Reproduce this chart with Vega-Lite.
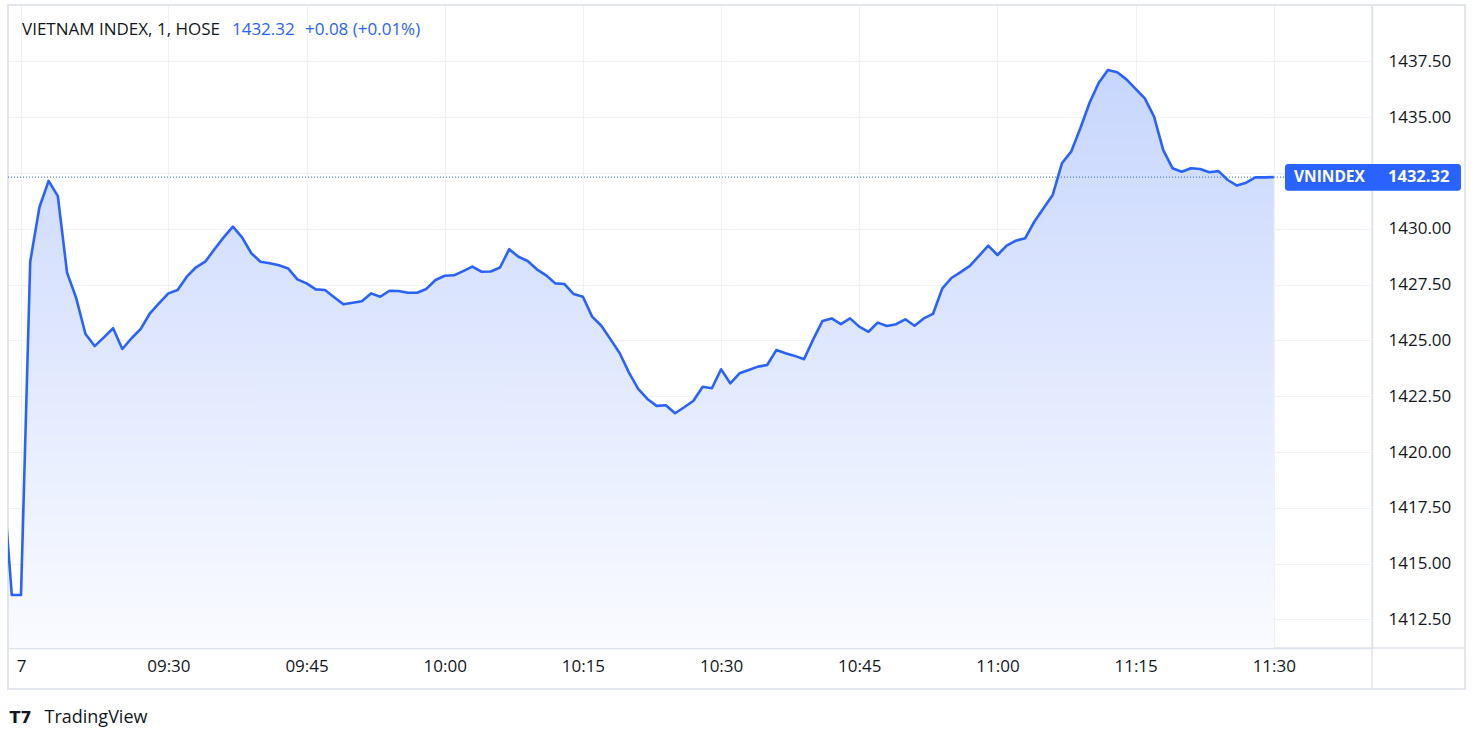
{
  "$schema": "https://vega.github.io/schema/vega-lite/v6.json",
  "autosize": {"type": "none"},
  "padding": {"left": 8, "top": 5, "right": 111, "bottom": 95},
  "width": 1364,
  "height": 643,
  "background": "#ffffff",
  "config": {
    "view": {"stroke": "#e3e6ec", "strokeWidth": 1.5},
    "font": "Open Sans"
  },
  "data": {
    "values": [
      {"t": 552, "v": 1419.04}, {"t": 553, "v": 1413.60}, {"t": 554, "v": 1413.60}, {"t": 555, "v": 1428.53},
      {"t": 556, "v": 1430.97}, {"t": 557, "v": 1432.15}, {"t": 558, "v": 1431.47}, {"t": 559, "v": 1428.04},
      {"t": 560, "v": 1426.89}, {"t": 561, "v": 1425.29}, {"t": 562, "v": 1424.75}, {"t": 563, "v": 1425.14},
      {"t": 564, "v": 1425.55}, {"t": 565, "v": 1424.62}, {"t": 566, "v": 1425.10}, {"t": 567, "v": 1425.52},
      {"t": 568, "v": 1426.22}, {"t": 569, "v": 1426.67}, {"t": 570, "v": 1427.11}, {"t": 571, "v": 1427.26},
      {"t": 572, "v": 1427.86}, {"t": 573, "v": 1428.28}, {"t": 574, "v": 1428.53}, {"t": 575, "v": 1429.09},
      {"t": 576, "v": 1429.62}, {"t": 577, "v": 1430.10}, {"t": 578, "v": 1429.62}, {"t": 579, "v": 1428.91},
      {"t": 580, "v": 1428.53}, {"t": 581, "v": 1428.46}, {"t": 582, "v": 1428.37}, {"t": 583, "v": 1428.23},
      {"t": 584, "v": 1427.74}, {"t": 585, "v": 1427.56}, {"t": 586, "v": 1427.29}, {"t": 587, "v": 1427.26},
      {"t": 588, "v": 1426.94}, {"t": 589, "v": 1426.62}, {"t": 590, "v": 1426.69}, {"t": 591, "v": 1426.76},
      {"t": 592, "v": 1427.11}, {"t": 593, "v": 1426.96}, {"t": 594, "v": 1427.23}, {"t": 595, "v": 1427.22},
      {"t": 596, "v": 1427.14}, {"t": 597, "v": 1427.14}, {"t": 598, "v": 1427.31}, {"t": 599, "v": 1427.71},
      {"t": 600, "v": 1427.90}, {"t": 601, "v": 1427.92}, {"t": 602, "v": 1428.11}, {"t": 603, "v": 1428.31},
      {"t": 604, "v": 1428.08}, {"t": 605, "v": 1428.09}, {"t": 606, "v": 1428.27}, {"t": 607, "v": 1429.09},
      {"t": 608, "v": 1428.75}, {"t": 609, "v": 1428.56}, {"t": 610, "v": 1428.19}, {"t": 611, "v": 1427.92},
      {"t": 612, "v": 1427.56}, {"t": 613, "v": 1427.53}, {"t": 614, "v": 1427.08}, {"t": 615, "v": 1426.96},
      {"t": 616, "v": 1426.07}, {"t": 617, "v": 1425.66}, {"t": 618, "v": 1425.05}, {"t": 619, "v": 1424.43},
      {"t": 620, "v": 1423.56}, {"t": 621, "v": 1422.83}, {"t": 622, "v": 1422.38}, {"t": 623, "v": 1422.07},
      {"t": 624, "v": 1422.10}, {"t": 625, "v": 1421.74}, {"t": 626, "v": 1422.01}, {"t": 627, "v": 1422.30},
      {"t": 628, "v": 1422.93}, {"t": 629, "v": 1422.86}, {"t": 630, "v": 1423.71}, {"t": 631, "v": 1423.08},
      {"t": 632, "v": 1423.53}, {"t": 633, "v": 1423.68}, {"t": 634, "v": 1423.83}, {"t": 635, "v": 1423.90},
      {"t": 636, "v": 1424.57}, {"t": 637, "v": 1424.43}, {"t": 638, "v": 1424.31}, {"t": 639, "v": 1424.16},
      {"t": 640, "v": 1425.05}, {"t": 641, "v": 1425.87}, {"t": 642, "v": 1425.99}, {"t": 643, "v": 1425.73},
      {"t": 644, "v": 1425.99}, {"t": 645, "v": 1425.62}, {"t": 646, "v": 1425.39}, {"t": 647, "v": 1425.80},
      {"t": 648, "v": 1425.65}, {"t": 649, "v": 1425.73}, {"t": 650, "v": 1425.95}, {"t": 651, "v": 1425.66},
      {"t": 652, "v": 1425.99}, {"t": 653, "v": 1426.19}, {"t": 654, "v": 1427.32}, {"t": 655, "v": 1427.80},
      {"t": 656, "v": 1428.06}, {"t": 657, "v": 1428.34}, {"t": 658, "v": 1428.79}, {"t": 659, "v": 1429.25},
      {"t": 660, "v": 1428.83}, {"t": 661, "v": 1429.25}, {"t": 662, "v": 1429.47}, {"t": 663, "v": 1429.58},
      {"t": 664, "v": 1430.32}, {"t": 665, "v": 1430.92}, {"t": 666, "v": 1431.52}, {"t": 667, "v": 1432.94},
      {"t": 668, "v": 1433.46}, {"t": 669, "v": 1434.51}, {"t": 670, "v": 1435.65}, {"t": 671, "v": 1436.55},
      {"t": 672, "v": 1437.12}, {"t": 673, "v": 1437.02}, {"t": 674, "v": 1436.70}, {"t": 675, "v": 1436.27},
      {"t": 676, "v": 1435.85}, {"t": 677, "v": 1435.03}, {"t": 678, "v": 1433.53}, {"t": 679, "v": 1432.72},
      {"t": 680, "v": 1432.56}, {"t": 681, "v": 1432.72}, {"t": 682, "v": 1432.68}, {"t": 683, "v": 1432.54},
      {"t": 684, "v": 1432.59}, {"t": 685, "v": 1432.19}, {"t": 686, "v": 1431.94}, {"t": 687, "v": 1432.07},
      {"t": 688, "v": 1432.31}, {"t": 689, "v": 1432.31}, {"t": 690, "v": 1432.32}
    ]
  },
  "encoding": {
    "x": {
      "field": "t",
      "type": "quantitative",
      "scale": {"domain": [552.589, 700.66], "nice": false, "zero": false},
      "axis": {
        "values": [554, 570, 585, 600, 615, 630, 645, 660, 675, 690],
        "labelExpr": "datum.value == 554 ? '7' : format(floor(datum.value / 60), '02d') + ':' + format(datum.value % 60, '02d')",
        "grid": true,
        "gridColor": "#eff1f6",
        "gridWidth": 1,
        "ticks": false,
        "domain": true,
        "domainColor": "#e0e3eb",
        "domainWidth": 1.5,
        "labelFont": "Open Sans",
        "labelFontSize": 17,
        "labelColor": "#131722",
        "labelPadding": 10,
        "labelFlush": false,
        "labelOverlap": false,
        "title": "TradingView",
        "titleX": 36,
        "titleY": 69,
        "titleAlign": "left",
        "titleAnchor": "start",
        "titleBaseline": "middle",
        "titleFont": "Open Sans",
        "titleFontSize": 18,
        "titleFontWeight": "normal",
        "titleColor": "#131722"
      }
    },
    "y": {
      "field": "v",
      "type": "quantitative",
      "scale": {"domain": [1411.223, 1440.031], "nice": false, "zero": false},
      "axis": {
        "orient": "right",
        "values": [1412.5, 1415, 1417.5, 1420, 1422.5, 1425, 1427.5, 1430, 1432.5, 1435, 1437.5],
        "labelExpr": "datum.value == 1432.5 ? '' : format(datum.value, '.2f')",
        "grid": true,
        "gridColor": "#eff1f6",
        "gridWidth": 1,
        "ticks": false,
        "tickSize": 0,
        "domain": true,
        "domainColor": "#e0e3eb",
        "domainWidth": 1.5,
        "labelFont": "Open Sans",
        "labelFontSize": 17,
        "labelColor": "#131722",
        "labelPadding": 16,
        "labelAlign": "left",
        "labelBaseline": "middle",
        "title": "T7",
        "titleAngle": 0,
        "titleX": -1363,
        "titleY": 712,
        "titleAlign": "left",
        "titleBaseline": "middle",
        "titleFont": "DejaVu Sans",
        "titleFontSize": 16,
        "titleFontWeight": 900,
        "titleColor": "#131722"
      }
    }
  },
  "layer": [
    {
      "mark": {
        "type": "area",
        "clip": true,
        "fill": {
          "gradient": "linear",
          "x1": 0, "y1": 0, "x2": 0, "y2": 1,
          "stops": [
            {"offset": 0, "color": "#c7d6fd"},
            {"offset": 1, "color": "#fafbff"}
          ]
        }
      },
      "encoding": {
        "y2": {"datum": 1411.223}
      }
    },
    {
      "transform": [{"filter": "datum.t == 690"}],
      "mark": {"type": "rect", "clip": false, "fill": null, "fillOpacity": 0, "stroke": "#e3e6ec", "strokeWidth": 2},
      "encoding": {
        "x": {"datum": 552.589},
        "x2": {"datum": 710.75},
        "y": {"datum": 1440.031},
        "y2": {"datum": 1409.386}
      }
    },
    {
      "transform": [{"filter": "datum.t == 690"}],
      "mark": {"type": "rule", "clip": false, "color": "#e0e3eb", "strokeWidth": 1.5},
      "encoding": {
        "x": {"datum": 700.66},
        "y": {"datum": 1411.223},
        "y2": {"datum": 1409.386}
      }
    },
    {
      "transform": [{"filter": "datum.t == 690"}],
      "mark": {"type": "rule", "clip": false, "color": "#e0e3eb", "strokeWidth": 1.5},
      "encoding": {
        "x": {"datum": 700.66},
        "x2": {"datum": 710.75},
        "y": {"datum": 1411.223}
      }
    },
    {
      "transform": [{"filter": "datum.t == 690"}],
      "mark": {"type": "rule", "color": "#2962ff", "strokeWidth": 1, "strokeDash": [1, 2]},
      "encoding": {
        "x": {"datum": 552.589},
        "x2": {"datum": 700.66}
      }
    },
    {
      "mark": {"type": "line", "clip": true, "color": "#2962ff", "strokeWidth": 2.6, "strokeJoin": "round"}
    },
    {
      "transform": [{"filter": "datum.t == 690"}],
      "mark": {"type": "rect", "clip": false, "color": "#2962ff", "cornerRadius": 3},
      "encoding": {
        "x": {"datum": 691.21},
        "x2": {"datum": 710.32},
        "y": {"datum": 1432.907},
        "y2": {"datum": 1431.71}
      }
    },
    {
      "transform": [{"filter": "datum.t == 690"}],
      "mark": {"type": "text", "clip": false, "text": "VNINDEX", "align": "left", "baseline": "middle", "fill": "#ffffff", "font": "Open Sans", "fontSize": 15.5, "fontWeight": "bold"},
      "encoding": {
        "x": {"datum": 692.19}
      }
    },
    {
      "transform": [{"filter": "datum.t == 690"}],
      "mark": {"type": "text", "clip": false, "align": "left", "baseline": "middle", "fill": "#ffffff", "font": "Open Sans", "fontSize": 16.5, "fontWeight": "bold"},
      "encoding": {
        "x": {"datum": 702.4},
        "text": {"field": "v", "type": "quantitative", "format": ".2f"}
      }
    },
    {
      "transform": [{"filter": "datum.t == 690"}],
      "mark": {"type": "text", "clip": false, "text": "VIETNAM INDEX, 1, HOSE", "align": "left", "baseline": "alphabetic", "fill": "#131722", "font": "Open Sans", "fontSize": 17},
      "encoding": {
        "x": {"datum": 554.109},
        "y": {"datum": 1438.69}
      }
    },
    {
      "transform": [{"filter": "datum.t == 690"}],
      "mark": {"type": "text", "clip": false, "align": "left", "baseline": "alphabetic", "fill": "#2962ff", "font": "Open Sans", "fontSize": 17},
      "encoding": {
        "x": {"datum": 576.9},
        "y": {"datum": 1438.69},
        "text": {"field": "v", "type": "quantitative", "format": ".2f"}
      }
    },
    {
      "transform": [{"filter": "datum.t == 690"}],
      "mark": {"type": "text", "clip": false, "text": "+0.08 (+0.01%)", "align": "left", "baseline": "alphabetic", "fill": "#2962ff", "font": "Open Sans", "fontSize": 17},
      "encoding": {
        "x": {"datum": 584.83},
        "y": {"datum": 1438.69}
      }
    }
  ]
}
